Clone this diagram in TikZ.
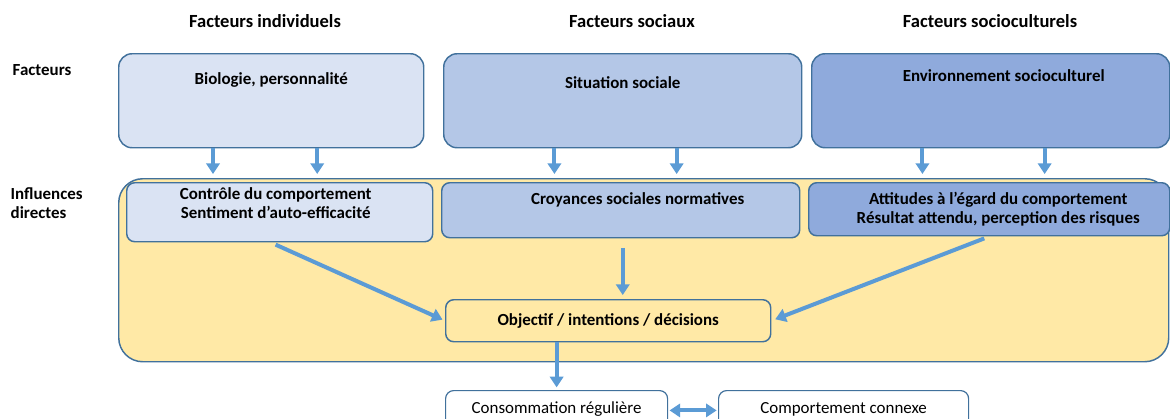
\documentclass[tikz,border=0pt]{standalone}
\usepackage{fontspec}
\setmainfont{Carlito}
\usetikzlibrary{arrows.meta,positioning,calc}
\definecolor{edge}{HTML}{41719C}
\definecolor{indiv}{HTML}{DAE3F3}
\definecolor{social}{HTML}{B4C7E7}
\definecolor{cultur}{HTML}{8FAADC}
\definecolor{yel}{HTML}{FFE9A6}
\definecolor{arrow}{HTML}{5B9BD5}
\begin{document}
\begin{tikzpicture}[x=0.75pt,y=-0.75pt,
        every node/.style={font=\fontsize{12.7}{14.25}\selectfont\bfseries},
        head/.style={font=\fontsize{13.9}{16}\selectfont\bfseries,anchor=base},
        fac/.style={draw=edge,line width=1.1pt,rounded corners=10pt,anchor=north west,inner ysep=0pt,align=center},
        inf/.style={fac,rounded corners=6pt},
        result/.style={inf,fill=white,line width=0.9pt,font=\fontsize{12.7}{14.25}\selectfont\mdseries},
        arr/.style={draw=arrow,line width=3pt,-{Triangle[length=8pt,width=10pt]}}]
   \useasboundingbox (0,0) rectangle (1170,418);

   % headers and row labels
   \node (hInd) [head] at (265,27) {Facteurs individuels};
   \node (hSoc) [head] at (632,27) {Facteurs sociaux};
   \node (hCul) [head] at (990,27) {Facteurs socioculturels};
   \node (lFac) [anchor=base west] at (8,75) {Facteurs};
   \node (lInf) [anchor=base west,align=left] at (6,218) {Influences\\directes};

   % factors
   \node (bio) [fac,fill=indiv,minimum width=228.75pt,text height=23.25pt,text depth=47.25pt] at (118,53) {Biologie, personnalité};
   \node (soc) [fac,fill=social,minimum width=268.5pt,text height=26.25pt,text depth=44.25pt] at (443,53) {Situation sociale};
   \node (env) [fac,fill=cultur,minimum width=268.5pt,text height=21pt,text depth=49.5pt] at (811,53) {\hspace*{19.5pt}Environnement socioculturel};

   % direct influences
   \node (yel) [fac,fill=yel,rounded corners=18pt,minimum width=787.5pt,minimum height=137.25pt] at (118,178) {};
   \node (ctrl) [inf,fill=indiv,minimum width=229.5pt,text height=27pt,text depth=17.25pt] at (126,182) {\hspace*{-6pt}Contrôle du comportement\\\hspace*{-6pt}Sentiment d’auto-efficacité};
   \node (croy) [inf,fill=social,minimum width=268.5pt,text height=16.5pt,text depth=24.75pt] at (441,182) {\hspace*{25.5pt}Croyances sociales normatives};
   \node (att) [inf,fill=cultur,minimum width=270.75pt,text height=30.75pt,text depth=9pt] at (808,182) {\hspace*{13.5pt}Attitudes à l’égard du comportement\\\hspace*{13.5pt}Résultat attendu, perception des risques};
   \node (obj) [inf,fill=yel,minimum width=243.75pt,minimum height=31.5pt] at (445,299) {Objectif / intentions / décisions};

   % behaviour
   \node (cons) [result,minimum width=166.5pt,text height=17.25pt,text depth=22.5pt] at (445,390) {Consommation régulière};
   \node (comp) [result,minimum width=187.5pt,text height=17.25pt,text depth=22.5pt] at (718,390) {Comportement connexe};

   \foreach \n in {bio,soc,env}{
      \foreach \f in {0.31,0.65}{
         \draw[arr,shorten >=3pt] ($(\n.south west)!\f!(\n.south east)$) coordinate (s) -- (s |- yel.north);
      }
   }
   \draw[arr,shorten <=4pt,shorten >=2pt] ([xshift=-6.75pt]ctrl.south) -- (obj.west);
   \draw[arr,shorten <=7pt,shorten >=3pt] ([xshift=1.5pt]croy.south) -- ([xshift=1.5pt]croy.south |- obj.north);
   \draw[arr,shorten <=4pt,shorten >=3pt] (att.south) -- (obj.east);
   \draw[arr,shorten >=2pt] (obj.south -| cons.north) -- (cons.north);
   \draw[arr,{Triangle[length=8pt,width=10pt]}-{Triangle[length=8pt,width=10pt]},shorten <=1pt,shorten >=1pt] (cons.mid east) -- (comp.mid west);

\end{tikzpicture}
\end{document}
